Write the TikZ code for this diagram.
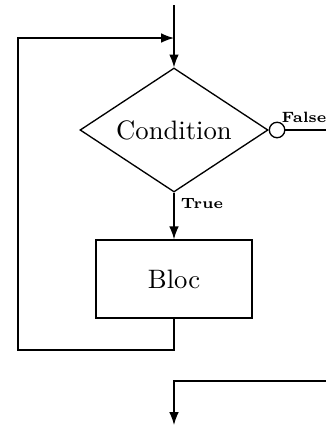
\documentclass[tikz,border=0pt]{standalone}
\usetikzlibrary{shapes.geometric,arrows.meta}
\begin{document}
\begin{tikzpicture}[x=0.375pt,y=-0.375pt,
  line width=0.5pt,
  arr/.style={-{Latex[length=4.8pt,width=3.6pt]}},
  cond/.style={draw,diamond,aspect=1.5,inner sep=0pt,minimum width=70.5pt,minimum height=46.5pt},
  blocbox/.style={draw,rectangle,minimum width=58.5pt,minimum height=29.3pt,inner sep=0pt},
  lab/.style={font=\fontsize{5.6}{7}\selectfont\bfseries,inner sep=0pt}]
\useasboundingbox (0,0) rectangle (326,427);
\coordinate (start) at (174,5);
\coordinate (j) at (174,38);
\node[cond] (c) at (174,130) {Condition};
\node[blocbox] (b) at (174,279) {Bloc};
\node[draw,circle,minimum size=5.8pt,inner sep=0pt,anchor=west] (o) at (c.east) {};
\coordinate (fend) at (326,130);
\coordinate (l1) at (18,38);
\coordinate (l2) at (18,350);
\coordinate (l3) at (174,350);
\coordinate (r1) at (326,381);
\coordinate (r2) at (174,381);
\coordinate (r3) at (174,425);
\draw[arr] (start) -- (c.north);
\draw[arr] (c.south) -- (b.north);
\draw (o.east) -- (fend);
\draw[arr] (b.south) -- (l3) -- (l2) -- (l1) -- (j);
\draw[arr] (r1) -- (r2) -- (r3);
\node[lab,anchor=center] at (304,117) {False};
\node[lab,anchor=center] at (202,204) {True};
\end{tikzpicture}
\end{document}
